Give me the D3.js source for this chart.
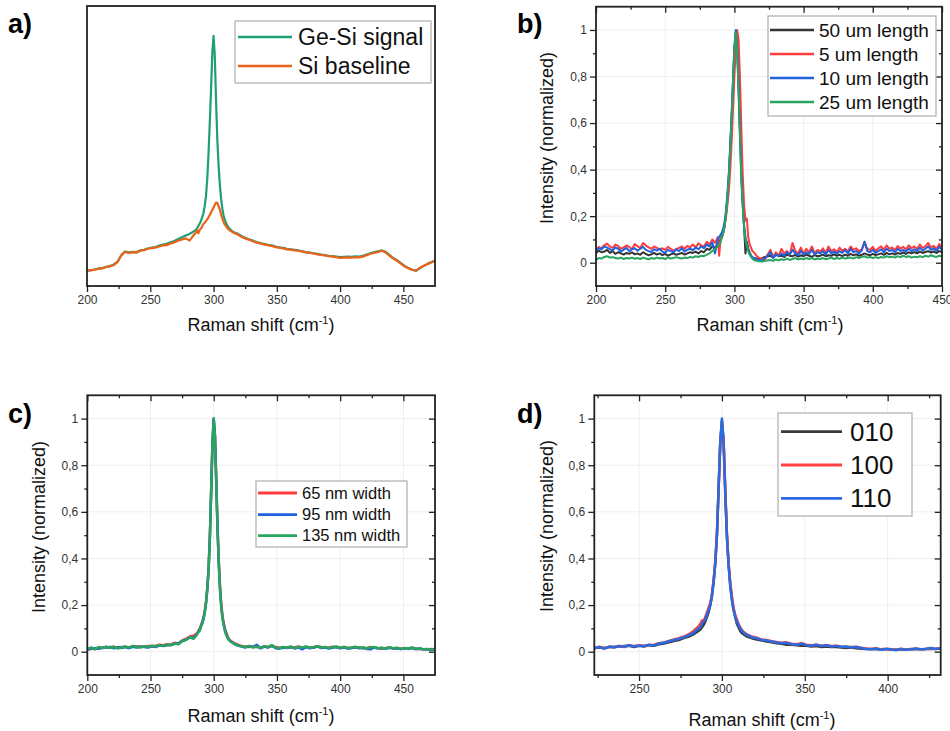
<!DOCTYPE html>
<html lang="en">
<head>
<meta charset="UTF-8">
<title>Raman spectra - Ge-Si waveguides</title>
<script src="https://d3js.org/d3.v7.min.js"></script>
<style>
  body { margin: 0; background: #fff; }
  svg text { font-family: "Liberation Sans", Arial, sans-serif; }
</style>
</head>
<body>
<div id="chart"></div>
<script>
// ---------- data ----------

// a) Ge-Si signal vs Si baseline (arbitrary units, no y axis)
const xA = [200,203,206,209,212,215,218,221,224,227,230,233,236,239,242,245,248,251,254,257,260,263,266,269,272,275,278,281,284,
  286,287,288,289,290,291,292,293,294,295,296,297,298,299,300,301,302,303,304,305,306,307,308,309,310,311,312,313,314,315,316,
  319,322,325,328,331,334,337,340,343,346,349,352,355,358,361,364,367,370,373,376,379,382,385,388,391,394,397,400,403,406,
  409,412,415,418,421,424,427,430,433,436,439,442,445,448,451,454,457,460,463,466,469,472,475];
const geSiSignal = [
  .054,.057,.059,.062,.064, .068,.071,.076,.086,.11, .123,.12,.122,.121,.127, .129,.134,.137,.139,.144,
  .148,.151,.156,.161,.168, .174,.18,.186,.194,
  .2,.206,.214,.222,.232,.245,.26,.285,.32,.38,.47,.58,.7,.83,.893,.82,.66,.52,.43,.36,.31,.275,.25,.235,.224,.215,.208,.203,.199,.195,.192,
  .187,.179,.172,.167,.162, .157,.153,.15,.147,.145, .141,.138,.136,.133,.131, .129,.127,.124,.121,.119,
  .117,.115,.112,.11,.108, .107,.105,.103,.104,.105, .104,.106,.105,.108,.112, .117,.121,.124,.127,.122,
  .111,.1,.092,.082,.072, .064,.058,.054,.063,.071, .079,.085,.091];
const siBaseline = [
  .054,.056,.058,.062,.063, .068,.07,.075,.085,.108, .122,.118,.121,.119,.126, .128,.133,.135,.137,.141,
  .145,.146,.152,.156,.162, .166,.17,.162,.18,
  .19,.198,.188,.2,.205,.212,.222,.226,.232,.238,.245,.254,.262,.272,.28,.29,.298,.296,.285,.272,.255,.24,.228,.218,.212,.206,.202,.198,.196,.193,.19,
  .184,.176,.17,.165,.16, .155,.152,.148,.146,.143, .139,.137,.134,.131,.13, .127,.126,.123,.12,.118,
  .116,.113,.111,.109,.107, .105,.103,.1,.101,.102, .101,.103,.102,.105,.11, .115,.118,.122,.126,.12,
  .108,.098,.09,.08,.07, .063,.058,.055,.065,.072, .078,.084,.09];

// b) waveguide length series (normalized)
const xB = [200,202,204,206,208,210,212,214,216,218,220,222,224,226,228,230,232,234,236,238,240,242,244,246,248,
  250,252,254,256,258,260,262,264,266,268,270,272,274,276,278,280,282,284,286,288,
  289,290,291,292,293,294,295,296,297,298,299,300,301,302,303,304,305,306,307,308,309,310,311,312,313,
  314,316,318,320,322,324,326,328,330,332,334,336,338,340,342,344,346,348,350,352,354,356,358,360,362,
  364,366,368,370,372,374,376,378,380,382,384,386,388,390,392,394,396,398,400,402,404,406,408,410,412,
  414,416,418,420,422,424,426,428,430,432,434,436,438,440,442,444,446,448,450];
const len50 = [
  .04,.052,.045,.048,.055, .042,.05,.038,.045,.04, .035,.042,.038,.045,.036, .04,.034,.045,.038,.032,
  .036,.042,.035,.04,.033, .038,.03,.036,.04,.034, .038,.042,.035,.04,.045, .042,.048,.04,.05,.045,
  .06,.055,.07,.065,.08,
  .09,.1,.11,.13,.16,.21,.28,.37,.49,.62,.77,.91,.99,.94,.78,.58,.4,.27,.15,.04,.09,.06,.045,.03,.022,
  .02,.018,.015,.02,.025, .028,.03,.022,.035,.028, .03,.025,.035,.03,.028, .034,.026,.032,.028,.035,
  .03,.025,.033,.028,.03, .035,.028,.032,.03,.036, .03,.034,.028,.035,.03, .038,.032,.036,.03,.034,
  .04,.035,.032,.038,.033, .036,.04,.034,.042,.036, .04,.035,.042,.038,.044, .038,.045,.04,.046,.04,
  .048,.042,.046,.05,.044, .048,.042,.05,.046];
const len5 = [
  .055,.068,.062,.075,.082, .07,.064,.078,.072,.06, .066,.074,.068,.058,.08, .071,.063,.085,.074,.066,
  .06,.07,.064,.057,.062, .055,.068,.06,.052,.058, .064,.07,.06,.072,.066, .078,.066,.083,.074,.07,
  .09,.078,.1,.085,.11,
  .03,.1,.12,.13,.16,.2,.25,.31,.4,.52,.66,.8,.92,1.0,.96,.8,.58,.38,.25,.18,.19,.11,.08,.065,.05,
  .045,.03,.02,.018,.012, .035,.055,.025,.045,.03, .06,.04,.05,.035,.085, .05,.04,.065,.038,.06,
  .045,.07,.04,.055,.048, .062,.042,.07,.05,.058, .045,.065,.052,.06,.048, .07,.055,.062,.05,.058,
  .09,.06,.055,.068,.05, .062,.07,.056,.075,.06, .065,.055,.072,.06,.068, .058,.075,.062,.07,.06,
  .078,.064,.07,.085,.066, .072,.06,.08,.065];
const len10 = [
  .05,.062,.058,.07,.065, .058,.052,.066,.06,.048, .056,.064,.05,.058,.062, .052,.06,.068,.055,.05,
  .046,.058,.052,.06,.048, .042,.055,.05,.045,.058, .05,.062,.048,.056,.06, .054,.065,.058,.07,.062,
  .078,.07,.088,.04,.1,
  .11,.12,.13,.15,.18,.23,.3,.39,.51,.64,.79,.93,1.0,.92,.75,.55,.37,.25,.16,.11,.08,.06,.04,.03,.025,
  .02,.015,.012,.01,.02, .03,.045,.02,.035,.028, .04,.03,.045,.035,.055, .04,.032,.05,.035,.045,
  .038,.055,.035,.045,.04, .05,.035,.055,.04,.048, .038,.05,.042,.055,.04, .06,.045,.05,.04,.052,
  .09,.05,.045,.055,.042, .05,.058,.045,.06,.05, .055,.045,.06,.05,.055, .048,.062,.05,.058,.05,
  .065,.052,.06,.07,.055, .062,.05,.068,.055];
const len25 = [
  .012,.02,.018,.025,.028, .022,.024,.02,.018,.022, .016,.02,.018,.022,.017, .02,.016,.022,.018,.015,
  .02,.017,.022,.018,.02, .016,.022,.018,.02,.024, .02,.018,.022,.02,.025, .022,.028,.025,.03,.028,
  .035,.04,.05,.06,.07,
  .075,.09,.11,.13,.16,.21,.28,.37,.49,.62,.78,.92,.99,.91,.74,.54,.36,.24,.15,.1,.07,.05,.035,.025,.018,
  .012,.008,.006,.005,.008, .01,.012,.008,.014,.01, .015,.012,.018,.012,.016, .02,.014,.018,.015,.02,
  .016,.02,.014,.018,.016, .02,.015,.018,.022,.016, .02,.017,.022,.018,.02, .022,.018,.024,.02,.025,
  .028,.022,.025,.02,.024, .02,.025,.022,.028,.024, .026,.022,.028,.024,.03, .025,.028,.022,.026,.024,
  .028,.024,.03,.026,.032, .028,.025,.03,.027];

// c) waveguide width series (normalized)
const xC = [200,203,206,209,212,215,218,221,224,227,230,233,236,239,242,245,248,251,254,257,260,263,266,269,272,275,278,281,284,287,
  288,289,290,291,292,293,294,295,296,297,298,299,300,301,302,303,304,305,306,307,308,309,310,311,312,313,
  316,319,322,325,328,331,334,337,340,343,346,349,352,355,358,361,364,367,370,373,376,379,382,385,388,391,394,397,400,403,
  406,409,412,415,418,421,424,427,430,433,436,439,442,445,448,451,454,457,460,463,466,469,472,475];
const w65 = [
  .008,.014,.012,.018,.017, .02,.018,.022,.016,.02, .02,.019,.022,.023,.02, .022,.024,.023,.025,.03,
  .028,.032,.03,.038,.035, .048,.055,.065,.068,.08,
  .09,.1,.115,.13,.15,.18,.22,.28,.37,.5,.69,.89,.99,.93,.74,.54,.39,.28,.2,.15,.12,.095,.08,.065,.055,.048,
  .038,.03,.025,.022,.02, .022,.02,.018,.022,.019, .024,.02,.018,.016,.019, .02,.018,.022,.017,.02,
  .019,.018,.022,.02,.017, .018,.021,.019,.016,.02, .017,.016,.019,.018,.015, .016,.02,.017,.016,.012,
  .016,.018,.014,.016,.013, .015,.012,.017,.014,.011, .01,.009,.012,.01];
const w95 = [
  .01,.012,.015,.012,.017, .018,.02,.015,.019,.016, .02,.015,.021,.018,.022, .02,.018,.023,.02,.026,
  .024,.028,.03,.033,.036, .045,.052,.06,.06,.078,
  .088,.095,.11,.125,.145,.175,.215,.275,.36,.5,.7,.9,1.0,.92,.73,.53,.38,.27,.19,.145,.115,.09,.075,.06,.052,.046,
  .034,.026,.022,.018,.024, .02,.03,.014,.022,.018, .026,.015,.013,.018,.016, .02,.014,.018,.01,.02,
  .015,.018,.022,.016,.018, .014,.017,.02,.015,.018, .013,.016,.019,.015,.017, .012,.01,.018,.014,.016,
  .012,.017,.014,.015,.011, .015,.012,.016,.01,.014, .01,.011,.007,.01];
const w135 = [
  .012,.018,.01,.02,.015, .022,.016,.02,.014,.018, .022,.017,.025,.02,.018, .024,.02,.026,.022,.028,
  .025,.03,.027,.035,.032, .045,.05,.062,.055,.075,
  .085,.09,.11,.12,.14,.17,.21,.27,.36,.5,.7,.9,1.0,.92,.72,.52,.37,.26,.19,.14,.11,.085,.07,.06,.05,.045,
  .035,.028,.022,.02,.025, .018,.022,.016,.024,.02, .028,.018,.015,.02,.017, .022,.016,.02,.018,.022,
  .017,.02,.024,.018,.02, .016,.019,.022,.017,.02, .015,.018,.021,.016,.019, .014,.018,.02,.015,.017,
  .013,.019,.015,.017,.012, .016,.014,.018,.012,.015, .01,.012,.008,.011];

// d) crystal orientation series (normalized)
const xD = [223,226,229,232,235,238,241,244,247,250,253,256,259,262,265,268,271,274,277,280,283,286,
  287,288,289,290,291,292,293,294,295,296,297,298,299,300,301,302,303,304,305,306,307,308,309,310,311,312,313,
  315,318,321,324,327,330,333,336,339,342,345,348,351,354,357,360,363,366,369,372,
  375,378,381,384,387,390,393,396,399,402,405,408,411,414,417,420,423,426,429,432];
const o010 = [
  .016,.018,.015,.02,.02, .022,.024,.025,.02,.025, .022,.028,.025,.032,.035, .04,.046,.05,.058,.065, .075,.09,
  .095,.105,.115,.13,.15,.17,.2,.24,.3,.38,.5,.7,.9,.99,.91,.7,.51,.38,.29,.23,.18,.15,.12,.105,.09,.08,.075,
  .065,.058,.052,.048,.044, .04,.036,.034,.03,.03, .028,.026,.025,.022,.024, .02,.022,.02,.02,.018,
  .016,.018,.015,.013,.012, .012,.01,.01,.011,.009, .008,.01,.009,.012,.011, .01,.012,.013,.011,.014];
const o100 = [
  .014,.021,.016,.02,.02, .024,.022,.027,.024,.028, .026,.029,.03,.036,.04, .046,.052,.058,.065,.075, .09,.11,
  .12,.135,.13,.15,.17,.19,.21,.25,.31,.39,.51,.7,.89,.98,.9,.69,.5,.38,.3,.24,.19,.16,.14,.12,.105,.095,.085,
  .075,.065,.06,.052,.05, .045,.042,.038,.04,.034, .032,.036,.03,.028,.03, .026,.028,.024,.026,.022,
  .02,.02,.021,.017,.014, .012,.015,.01,.013,.011, .008,.013,.009,.011,.014, .011,.012,.015,.013,.016];
const o110 = [
  .015,.02,.013,.022,.018, .025,.02,.028,.022,.026, .024,.03,.027,.035,.038, .045,.05,.055,.062,.07, .082,.1,
  .105,.12,.13,.14,.16,.18,.2,.24,.3,.38,.5,.7,.9,1.0,.9,.68,.49,.37,.28,.22,.18,.15,.13,.115,.1,.09,.082,
  .072,.062,.058,.05,.048, .044,.04,.036,.038,.032, .03,.034,.028,.026,.03, .024,.028,.022,.025,.02,
  .022,.018,.02,.016,.012, .01,.014,.008,.012,.01, .006,.012,.008,.01,.014, .01,.012,.016,.012,.015];

// ticks
const xTicksWide = [200, 250, 300, 350, 400, 450];
const xMinorWide = [225, 275, 325, 375, 425];
const xTicksD = [250, 300, 350, 400];
const xMinorD = [225, 275, 325, 375, 425];
const yTicks = [0, 0.2, 0.4, 0.6, 0.8, 1];
const yTickLabels = ["0", "0,2", "0,4", "0,6", "0,8", "1"];
const yMinor = [0.1, 0.3, 0.5, 0.7, 0.9];

// ---------- drawing ----------
const svg = d3.select("#chart").append("svg")
  .attr("width", 950).attr("height", 731);

const panels = [
  { id: "a", left: 87, right: 435, top: 6, bottom: 286, xDomain: [200, 475], yDomain: [0, 1],
    xTicks: xTicksWide, xMinor: xMinorWide, xs: xA, yAxis: false, mirror: false, grid: false, lw: 2.2,
    series: [
      { name: "Ge-Si signal", values: geSiSignal, color: "#1f9e78" },
      { name: "Si baseline", values: siBaseline, color: "#eb6219" }],
    legend: { x0: 235, y0: 21, x1: 431, y1: 83, rows: [37, 66], l0: 238, l1: 292, tx: 298, fs: 23 },
    letter: [8, 33], xLabel: [261, 331], yLabel: null },
  { id: "b", left: 596, right: 942, top: 6.7, bottom: 286, xDomain: [200, 450], yDomain: [-0.1, 1.1],
    xTicks: xTicksWide, xMinor: xMinorWide, xs: xB, yAxis: true, mirror: true, grid: true, lw: 2,
    series: [
      { name: "50 um length", values: len50, color: "#333333" },
      { name: "5 um length", values: len5, color: "#ff3b3b" },
      { name: "10 um length", values: len10, color: "#1f62e0" },
      { name: "25 um length", values: len25, color: "#27a55f" }],
    legend: { x0: 768, y0: 16, x1: 936, y1: 116, rows: [30, 54, 78, 102], l0: 770, l1: 814, tx: 819, fs: 19 },
    letter: [517, 33], xLabel: [770, 331], yLabel: [553, 138] },
  { id: "c", left: 87.3, right: 435, top: 395.3, bottom: 675, xDomain: [200, 475], yDomain: [-0.1, 1.1],
    xTicks: xTicksWide, xMinor: xMinorWide, xs: xC, yAxis: true, mirror: true, grid: true, lw: 2.5,
    series: [
      { name: "65 nm width", values: w65, color: "#ff3b3b" },
      { name: "95 nm width", values: w95, color: "#1f62e0" },
      { name: "135 nm width", values: w135, color: "#27a55f" }],
    legend: { x0: 256, y0: 481, x1: 407, y1: 547, rows: [493, 514.7, 535.7], l0: 258, l1: 297, tx: 302, fs: 16.5 },
    letter: [8, 423], xLabel: [261, 722], yLabel: [45, 527] },
  { id: "d", left: 594.3, right: 940.7, top: 395.3, bottom: 675, xDomain: [223, 432], yDomain: [-0.1, 1.1],
    xTicks: xTicksD, xMinor: xMinorD, xs: xD, yAxis: true, mirror: true, grid: true, lw: 2.5,
    series: [
      { name: "010", values: o010, color: "#3a3a3a" },
      { name: "100", values: o100, color: "#ff4141" },
      { name: "110", values: o110, color: "#2a6ae2" }],
    legend: { x0: 778, y0: 413, x1: 912, y1: 516, rows: [431.7, 465, 498.3], l0: 781, l1: 842, tx: 850, fs: 26 },
    letter: [517, 423], xLabel: [762, 726], yLabel: [553, 526] }
];

function ramanLabel(sel, cx, cy) {
  const t = sel.append("text").attr("x", cx).attr("y", cy)
    .attr("text-anchor", "middle").attr("font-size", 18).attr("fill", "#111");
  t.append("tspan").text("Raman shift (cm");
  t.append("tspan").attr("font-size", 11).attr("dy", -7).text("-1");
  t.append("tspan").attr("dy", 7).text(")");
}

function drawPanel(p) {
  const x = d3.scaleLinear().domain(p.xDomain).range([p.left, p.right]);
  const y = d3.scaleLinear().domain(p.yDomain).range([p.bottom, p.top]);
  const g = svg.append("g").attr("class", "panel-" + p.id);

  // faint grid
  if (p.grid) {
    g.append("g").selectAll("line").data(p.xTicks).join("line")
      .attr("x1", d => x(d)).attr("x2", d => x(d))
      .attr("y1", p.top).attr("y2", p.bottom)
      .attr("stroke", "#eeeeee").attr("stroke-width", 1);
    g.append("g").selectAll("line").data(yTicks).join("line")
      .attr("y1", d => y(d)).attr("y2", d => y(d))
      .attr("x1", p.left).attr("x2", p.right)
      .attr("stroke", "#eeeeee").attr("stroke-width", 1);
  }

  // spectra, clipped to the frame
  svg.append("clipPath").attr("id", "clip-" + p.id).append("rect")
    .attr("x", p.left).attr("y", p.top)
    .attr("width", p.right - p.left).attr("height", p.bottom - p.top);
  const line = d3.line().defined(d => d[1] != null)
    .x(d => x(d[0])).y(d => y(d[1]));
  const lines = g.append("g").attr("clip-path", `url(#clip-${p.id})`);
  p.series.forEach(s => {
    if (s.values.length !== p.xs.length) console.warn(p.id, s.name, s.values.length, p.xs.length);
    lines.append("path")
      .datum(p.xs.map((xv, i) => [xv, s.values[i]]))
      .attr("fill", "none").attr("stroke", s.color)
      .attr("stroke-width", p.lw).attr("stroke-linejoin", "round")
      .attr("d", line);
  });

  // axes
  g.append("g").attr("transform", `translate(0,${p.bottom})`)
    .call(d3.axisBottom(x).tickValues(p.xTicks).tickSize(6).tickPadding(3).tickFormat(d3.format("d")));
  g.append("g").attr("transform", `translate(0,${p.bottom})`)
    .call(d3.axisBottom(x).tickValues(p.xMinor).tickSize(3).tickFormat(""));
  if (p.yAxis) {
    g.append("g").attr("transform", `translate(${p.left},0)`)
      .call(d3.axisLeft(y).tickValues(yTicks).tickSize(6).tickPadding(3).tickFormat((d, i) => yTickLabels[i]));
    g.append("g").attr("transform", `translate(${p.left},0)`)
      .call(d3.axisLeft(y).tickValues(yMinor).tickSize(3).tickFormat(""));
  }
  if (p.mirror) {
    g.append("g").attr("transform", `translate(0,${p.top})`)
      .call(d3.axisBottom(x).tickValues(p.xTicks).tickSize(6).tickFormat(""));
    g.append("g").attr("transform", `translate(0,${p.top})`)
      .call(d3.axisBottom(x).tickValues(p.xMinor).tickSize(3).tickFormat(""));
    g.append("g").attr("transform", `translate(${p.right},0)`)
      .call(d3.axisLeft(y).tickValues(yTicks).tickSize(6).tickFormat(""));
    g.append("g").attr("transform", `translate(${p.right},0)`)
      .call(d3.axisLeft(y).tickValues(yMinor).tickSize(3).tickFormat(""));
  }
  g.selectAll(".domain").remove();
  g.selectAll(".tick line").attr("stroke", "#222").attr("stroke-width", 1.3);
  g.selectAll(".tick text").attr("font-size", 12).attr("fill", "#333")
    .attr("font-family", "Liberation Sans, Arial, sans-serif");

  // frame
  g.append("rect").attr("x", p.left).attr("y", p.top)
    .attr("width", p.right - p.left).attr("height", p.bottom - p.top)
    .attr("fill", "none").attr("stroke", "#222").attr("stroke-width", 1.8);

  // legend
  const L = p.legend;
  const lg = g.append("g");
  lg.append("rect").attr("x", L.x0).attr("y", L.y0)
    .attr("width", L.x1 - L.x0).attr("height", L.y1 - L.y0)
    .attr("fill", "#fff").attr("stroke", "#b4b4b4").attr("stroke-width", 1.3);
  p.series.forEach((s, i) => {
    lg.append("line").attr("x1", L.l0).attr("x2", L.l1)
      .attr("y1", L.rows[i]).attr("y2", L.rows[i])
      .attr("stroke", s.color).attr("stroke-width", p.lw + 0.3);
    lg.append("text").attr("x", L.tx).attr("y", L.rows[i])
      .attr("dy", "0.35em").attr("font-size", L.fs).attr("fill", "#111").text(s.name);
  });

  // labels
  g.append("text").attr("x", p.letter[0]).attr("y", p.letter[1])
    .attr("font-size", 27).attr("font-weight", "bold").attr("fill", "#000").text(p.id + ")");
  ramanLabel(g, p.xLabel[0], p.xLabel[1]);
  if (p.yLabel) {
    g.append("text")
      .attr("transform", `translate(${p.yLabel[0]},${p.yLabel[1]}) rotate(-90)`)
      .attr("text-anchor", "middle").attr("font-size", 18).attr("fill", "#111")
      .text("Intensity (normalized)");
  }
}

panels.forEach(drawPanel);
</script>
</body>
</html>
